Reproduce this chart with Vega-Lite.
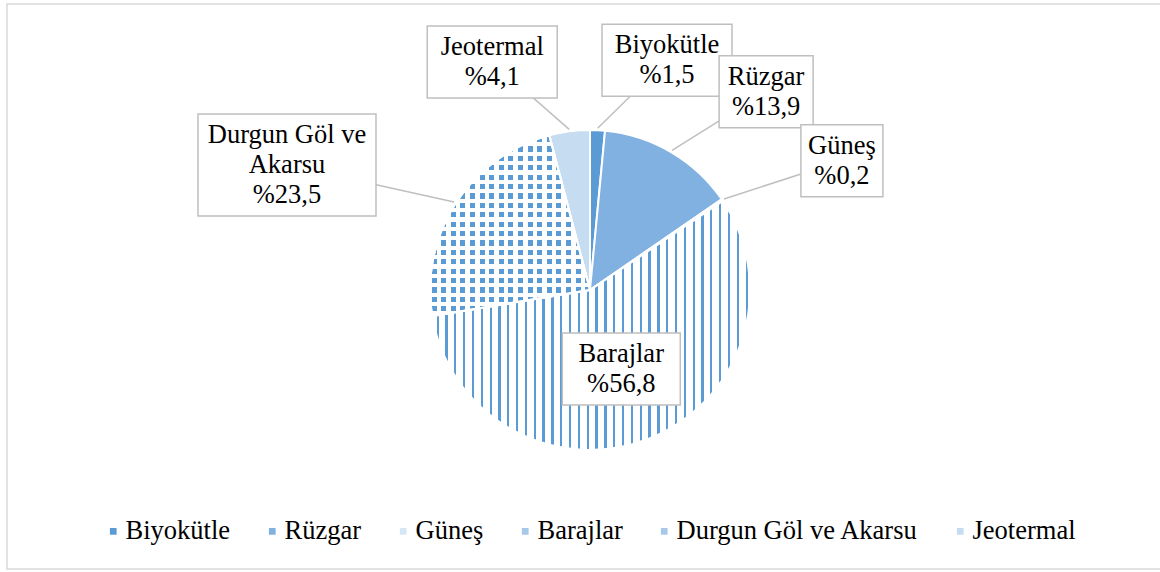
{
  "$schema": "https://vega.github.io/schema/vega-lite/v6.json",
  "width": 1156,
  "height": 565,
  "padding": {"left": 7, "top": 4, "right": 0, "bottom": 3},
  "background": "#ffffff",
  "config": {"view": {"stroke": "#d9d9d9", "strokeWidth": 1.5}, "font": "Liberation Serif"},
  "data": {"values": [
    {"kaynak": "Biyokütle", "pay": 1.5},
    {"kaynak": "Rüzgar", "pay": 13.9},
    {"kaynak": "Güneş", "pay": 0.2},
    {"kaynak": "Barajlar", "pay": 56.8},
    {"kaynak": "Durgun Göl ve Akarsu", "pay": 23.5},
    {"kaynak": "Jeotermal", "pay": 4.1}
  ]},
  "transform": [
    {"window": [{"op": "row_number", "as": "sira"}]},
    {"stack": "pay", "groupby": [], "sort": [{"field": "sira", "order": "ascending"}], "as": ["v0", "v1"]},
    {"calculate": "(datum.v0 + datum.v1) / 100 * PI", "as": "mid"},
    {"calculate": "length(datum.kaynak) > 12", "as": "wrap"},
    {"calculate": "datum.wrap ? replace(datum.kaynak, regexp(' [^ ]+$'), '') : datum.kaynak", "as": "l1"},
    {"calculate": "datum.wrap ? replace(datum.kaynak, regexp('^.* '), '') : ''", "as": "l2"},
    {"calculate": "'%' + replace(format(datum.pay, '.1f'), '.', ',')", "as": "pct"},
    {"calculate": "datum.wrap ? [datum.l1, datum.l2, datum.pct] : [datum.l1, datum.pct]", "as": "label"},
    {"calculate": "datum.wrap ? 3 : 2", "as": "nl"},
    {"calculate": "max(length(datum.l1), length(datum.l2), length(datum.pct))", "as": "nc"},
    {"calculate": "12 * datum.nc + 22", "as": "bw"},
    {"calculate": "30 * datum.nl + 12", "as": "bh"},
    {"calculate": "datum.pay > 40", "as": "inside"},
    {"calculate": "sin(datum.mid) >= 0 ? 1 : -1", "as": "side"},
    {"calculate": "datum.inside ? 85 * sin(datum.mid) : 255 * sin(datum.mid) + datum.side * datum.bw / 2", "as": "cx"},
    {"calculate": "datum.inside ? 85 * cos(datum.mid) : 230 * cos(datum.mid)", "as": "cy"},
    {"calculate": "datum.cy + (datum.nl - 1) * 15", "as": "ty"},
    {"calculate": "162 * sin(datum.mid)", "as": "ex"},
    {"calculate": "162 * cos(datum.mid)", "as": "ey"},
    {"calculate": "datum.cx - datum.bw / 2", "as": "bx1"},
    {"calculate": "datum.cx + datum.bw / 2", "as": "bx2"},
    {"calculate": "datum.cy - datum.bh / 2", "as": "by1"},
    {"calculate": "datum.cy + datum.bh / 2", "as": "by2"}
  ],
  "layer": [
    {
      "mark": {"type": "arc", "outerRadius": 160, "stroke": "#ffffff", "strokeWidth": 2},
      "encoding": {
        "x": {"datum": 0, "type": "quantitative", "scale": {"domain": [-583, 573], "nice": false, "zero": false}, "axis": null},
        "y": {"datum": 0, "type": "quantitative", "scale": {"domain": [-279, 286], "nice": false, "zero": false}, "axis": null},
        "theta": {"field": "v0", "type": "quantitative", "scale": {"domain": [0, 100]}},
        "theta2": {"field": "v1"},
        "color": {
          "field": "kaynak", "type": "nominal",
          "scale": {
            "domain": ["Biyokütle", "Rüzgar", "Güneş", "Barajlar", "Durgun Göl ve Akarsu", "Jeotermal"],
            "range": ["#5b9bd5", "#80b1e0", "#d6e6f5", "#a7c8ea", "#a7c8ea", "#c6dcf0"]
          },
          "legend": {
            "orient": "none", "legendX": 93, "legendY": 514, "direction": "horizontal",
            "title": null, "symbolType": "square", "symbolSize": 45, "symbolStrokeWidth": 0,
            "labelFont": "Liberation Serif", "labelFontSize": 26.5, "labelColor": "#000000",
            "labelOffset": -1, "columnPadding": 28, "padding": 0, "labelLimit": 400
          }
        }
      }
    },
    {
      "transform": [{"filter": "datum.kaynak === 'Barajlar'"}],
      "mark": {"type": "arc", "outerRadius": 160, "stroke": "#ffffff", "strokeWidth": 2,
        "fill": {"gradient": "linear", "x1": 0, "y1": 0, "x2": 1, "y2": 0, "stops": [
          {"offset": 0.0139, "color": "#fff"}, {"offset": 0.0139, "color": "#5b9bd5"}, {"offset": 0.0208, "color": "#5b9bd5"}, {"offset": 0.0208, "color": "#fff"},
          {"offset": 0.0417, "color": "#fff"}, {"offset": 0.0417, "color": "#5b9bd5"}, {"offset": 0.0486, "color": "#5b9bd5"}, {"offset": 0.0486, "color": "#fff"},
          {"offset": 0.0694, "color": "#fff"}, {"offset": 0.0694, "color": "#5b9bd5"}, {"offset": 0.0764, "color": "#5b9bd5"}, {"offset": 0.0764, "color": "#fff"},
          {"offset": 0.0972, "color": "#fff"}, {"offset": 0.0972, "color": "#5b9bd5"}, {"offset": 0.1042, "color": "#5b9bd5"}, {"offset": 0.1042, "color": "#fff"},
          {"offset": 0.1250, "color": "#fff"}, {"offset": 0.1250, "color": "#5b9bd5"}, {"offset": 0.1319, "color": "#5b9bd5"}, {"offset": 0.1319, "color": "#fff"},
          {"offset": 0.1528, "color": "#fff"}, {"offset": 0.1528, "color": "#5b9bd5"}, {"offset": 0.1597, "color": "#5b9bd5"}, {"offset": 0.1597, "color": "#fff"},
          {"offset": 0.1806, "color": "#fff"}, {"offset": 0.1806, "color": "#5b9bd5"}, {"offset": 0.1875, "color": "#5b9bd5"}, {"offset": 0.1875, "color": "#fff"},
          {"offset": 0.2083, "color": "#fff"}, {"offset": 0.2083, "color": "#5b9bd5"}, {"offset": 0.2153, "color": "#5b9bd5"}, {"offset": 0.2153, "color": "#fff"},
          {"offset": 0.2361, "color": "#fff"}, {"offset": 0.2361, "color": "#5b9bd5"}, {"offset": 0.2431, "color": "#5b9bd5"}, {"offset": 0.2431, "color": "#fff"},
          {"offset": 0.2639, "color": "#fff"}, {"offset": 0.2639, "color": "#5b9bd5"}, {"offset": 0.2708, "color": "#5b9bd5"}, {"offset": 0.2708, "color": "#fff"},
          {"offset": 0.2917, "color": "#fff"}, {"offset": 0.2917, "color": "#5b9bd5"}, {"offset": 0.2986, "color": "#5b9bd5"}, {"offset": 0.2986, "color": "#fff"},
          {"offset": 0.3194, "color": "#fff"}, {"offset": 0.3194, "color": "#5b9bd5"}, {"offset": 0.3264, "color": "#5b9bd5"}, {"offset": 0.3264, "color": "#fff"},
          {"offset": 0.3472, "color": "#fff"}, {"offset": 0.3472, "color": "#5b9bd5"}, {"offset": 0.3542, "color": "#5b9bd5"}, {"offset": 0.3542, "color": "#fff"},
          {"offset": 0.3750, "color": "#fff"}, {"offset": 0.3750, "color": "#5b9bd5"}, {"offset": 0.3819, "color": "#5b9bd5"}, {"offset": 0.3819, "color": "#fff"},
          {"offset": 0.4028, "color": "#fff"}, {"offset": 0.4028, "color": "#5b9bd5"}, {"offset": 0.4097, "color": "#5b9bd5"}, {"offset": 0.4097, "color": "#fff"},
          {"offset": 0.4306, "color": "#fff"}, {"offset": 0.4306, "color": "#5b9bd5"}, {"offset": 0.4375, "color": "#5b9bd5"}, {"offset": 0.4375, "color": "#fff"},
          {"offset": 0.4583, "color": "#fff"}, {"offset": 0.4583, "color": "#5b9bd5"}, {"offset": 0.4653, "color": "#5b9bd5"}, {"offset": 0.4653, "color": "#fff"},
          {"offset": 0.4861, "color": "#fff"}, {"offset": 0.4861, "color": "#5b9bd5"}, {"offset": 0.4931, "color": "#5b9bd5"}, {"offset": 0.4931, "color": "#fff"},
          {"offset": 0.5139, "color": "#fff"}, {"offset": 0.5139, "color": "#5b9bd5"}, {"offset": 0.5208, "color": "#5b9bd5"}, {"offset": 0.5208, "color": "#fff"},
          {"offset": 0.5417, "color": "#fff"}, {"offset": 0.5417, "color": "#5b9bd5"}, {"offset": 0.5486, "color": "#5b9bd5"}, {"offset": 0.5486, "color": "#fff"},
          {"offset": 0.5694, "color": "#fff"}, {"offset": 0.5694, "color": "#5b9bd5"}, {"offset": 0.5764, "color": "#5b9bd5"}, {"offset": 0.5764, "color": "#fff"},
          {"offset": 0.5972, "color": "#fff"}, {"offset": 0.5972, "color": "#5b9bd5"}, {"offset": 0.6042, "color": "#5b9bd5"}, {"offset": 0.6042, "color": "#fff"},
          {"offset": 0.6250, "color": "#fff"}, {"offset": 0.6250, "color": "#5b9bd5"}, {"offset": 0.6319, "color": "#5b9bd5"}, {"offset": 0.6319, "color": "#fff"},
          {"offset": 0.6528, "color": "#fff"}, {"offset": 0.6528, "color": "#5b9bd5"}, {"offset": 0.6597, "color": "#5b9bd5"}, {"offset": 0.6597, "color": "#fff"},
          {"offset": 0.6806, "color": "#fff"}, {"offset": 0.6806, "color": "#5b9bd5"}, {"offset": 0.6875, "color": "#5b9bd5"}, {"offset": 0.6875, "color": "#fff"},
          {"offset": 0.7083, "color": "#fff"}, {"offset": 0.7083, "color": "#5b9bd5"}, {"offset": 0.7153, "color": "#5b9bd5"}, {"offset": 0.7153, "color": "#fff"},
          {"offset": 0.7361, "color": "#fff"}, {"offset": 0.7361, "color": "#5b9bd5"}, {"offset": 0.7431, "color": "#5b9bd5"}, {"offset": 0.7431, "color": "#fff"},
          {"offset": 0.7639, "color": "#fff"}, {"offset": 0.7639, "color": "#5b9bd5"}, {"offset": 0.7708, "color": "#5b9bd5"}, {"offset": 0.7708, "color": "#fff"},
          {"offset": 0.7917, "color": "#fff"}, {"offset": 0.7917, "color": "#5b9bd5"}, {"offset": 0.7986, "color": "#5b9bd5"}, {"offset": 0.7986, "color": "#fff"},
          {"offset": 0.8194, "color": "#fff"}, {"offset": 0.8194, "color": "#5b9bd5"}, {"offset": 0.8264, "color": "#5b9bd5"}, {"offset": 0.8264, "color": "#fff"},
          {"offset": 0.8472, "color": "#fff"}, {"offset": 0.8472, "color": "#5b9bd5"}, {"offset": 0.8542, "color": "#5b9bd5"}, {"offset": 0.8542, "color": "#fff"},
          {"offset": 0.8750, "color": "#fff"}, {"offset": 0.8750, "color": "#5b9bd5"}, {"offset": 0.8819, "color": "#5b9bd5"}, {"offset": 0.8819, "color": "#fff"},
          {"offset": 0.9028, "color": "#fff"}, {"offset": 0.9028, "color": "#5b9bd5"}, {"offset": 0.9097, "color": "#5b9bd5"}, {"offset": 0.9097, "color": "#fff"},
          {"offset": 0.9306, "color": "#fff"}, {"offset": 0.9306, "color": "#5b9bd5"}, {"offset": 0.9375, "color": "#5b9bd5"}, {"offset": 0.9375, "color": "#fff"},
          {"offset": 0.9583, "color": "#fff"}, {"offset": 0.9583, "color": "#5b9bd5"}, {"offset": 0.9653, "color": "#5b9bd5"}, {"offset": 0.9653, "color": "#fff"},
          {"offset": 0.9861, "color": "#fff"}, {"offset": 0.9861, "color": "#5b9bd5"}, {"offset": 0.9931, "color": "#5b9bd5"}, {"offset": 0.9931, "color": "#fff"}
        ]}
      },
      "encoding": {
        "x": {"datum": 0, "type": "quantitative"},
        "y": {"datum": 0, "type": "quantitative"},
        "theta": {"field": "v0", "type": "quantitative"},
        "theta2": {"field": "v1"}
      }
    },
    {
      "transform": [{"filter": "datum.kaynak === 'Durgun Göl ve Akarsu'"}],
      "mark": {"type": "arc", "outerRadius": 160, "stroke": "#ffffff", "strokeWidth": 2,
        "fill": {"gradient": "linear", "x1": 0, "y1": 0, "x2": 1, "y2": 0, "stops": [
          {"offset": 0.01, "color": "#fff"}, {"offset": 0.01, "color": "#5b9bd5"}, {"offset": 0.041, "color": "#5b9bd5"}, {"offset": 0.041, "color": "#fff"},
          {"offset": 0.07, "color": "#fff"}, {"offset": 0.07, "color": "#5b9bd5"}, {"offset": 0.101, "color": "#5b9bd5"}, {"offset": 0.101, "color": "#fff"},
          {"offset": 0.13, "color": "#fff"}, {"offset": 0.13, "color": "#5b9bd5"}, {"offset": 0.161, "color": "#5b9bd5"}, {"offset": 0.161, "color": "#fff"},
          {"offset": 0.19, "color": "#fff"}, {"offset": 0.19, "color": "#5b9bd5"}, {"offset": 0.221, "color": "#5b9bd5"}, {"offset": 0.221, "color": "#fff"},
          {"offset": 0.25, "color": "#fff"}, {"offset": 0.25, "color": "#5b9bd5"}, {"offset": 0.281, "color": "#5b9bd5"}, {"offset": 0.281, "color": "#fff"},
          {"offset": 0.31, "color": "#fff"}, {"offset": 0.31, "color": "#5b9bd5"}, {"offset": 0.341, "color": "#5b9bd5"}, {"offset": 0.341, "color": "#fff"},
          {"offset": 0.37, "color": "#fff"}, {"offset": 0.37, "color": "#5b9bd5"}, {"offset": 0.401, "color": "#5b9bd5"}, {"offset": 0.401, "color": "#fff"},
          {"offset": 0.43, "color": "#fff"}, {"offset": 0.43, "color": "#5b9bd5"}, {"offset": 0.461, "color": "#5b9bd5"}, {"offset": 0.461, "color": "#fff"},
          {"offset": 0.49, "color": "#fff"}, {"offset": 0.49, "color": "#5b9bd5"}, {"offset": 0.521, "color": "#5b9bd5"}, {"offset": 0.521, "color": "#fff"},
          {"offset": 0.55, "color": "#fff"}, {"offset": 0.55, "color": "#5b9bd5"}, {"offset": 0.581, "color": "#5b9bd5"}, {"offset": 0.581, "color": "#fff"},
          {"offset": 0.61, "color": "#fff"}, {"offset": 0.61, "color": "#5b9bd5"}, {"offset": 0.641, "color": "#5b9bd5"}, {"offset": 0.641, "color": "#fff"},
          {"offset": 0.67, "color": "#fff"}, {"offset": 0.67, "color": "#5b9bd5"}, {"offset": 0.701, "color": "#5b9bd5"}, {"offset": 0.701, "color": "#fff"},
          {"offset": 0.73, "color": "#fff"}, {"offset": 0.73, "color": "#5b9bd5"}, {"offset": 0.761, "color": "#5b9bd5"}, {"offset": 0.761, "color": "#fff"},
          {"offset": 0.79, "color": "#fff"}, {"offset": 0.79, "color": "#5b9bd5"}, {"offset": 0.821, "color": "#5b9bd5"}, {"offset": 0.821, "color": "#fff"},
          {"offset": 0.85, "color": "#fff"}, {"offset": 0.85, "color": "#5b9bd5"}, {"offset": 0.881, "color": "#5b9bd5"}, {"offset": 0.881, "color": "#fff"},
          {"offset": 0.91, "color": "#fff"}, {"offset": 0.91, "color": "#5b9bd5"}, {"offset": 0.941, "color": "#5b9bd5"}, {"offset": 0.941, "color": "#fff"},
          {"offset": 0.97, "color": "#fff"}, {"offset": 0.97, "color": "#5b9bd5"}, {"offset": 0.995, "color": "#5b9bd5"}, {"offset": 0.995, "color": "#fff"}
        ]}
      },
      "encoding": {
        "x": {"datum": 0, "type": "quantitative"},
        "y": {"datum": 0, "type": "quantitative"},
        "theta": {"field": "v0", "type": "quantitative"},
        "theta2": {"field": "v1"}
      }
    },
    {
      "transform": [{"filter": "datum.kaynak === 'Durgun Göl ve Akarsu'"}],
      "mark": {"type": "arc", "outerRadius": 160, "stroke": "#ffffff", "strokeWidth": 2,
        "fill": {"gradient": "linear", "x1": 0, "y1": 0, "x2": 0, "y2": 1, "stops": [
          {"offset": 0.010, "color": "#fff"}, {"offset": 0.010, "color": "rgba(255,255,255,0)"}, {"offset": 0.038, "color": "rgba(255,255,255,0)"}, {"offset": 0.038, "color": "#fff"},
          {"offset": 0.062, "color": "#fff"}, {"offset": 0.062, "color": "rgba(255,255,255,0)"}, {"offset": 0.090, "color": "rgba(255,255,255,0)"}, {"offset": 0.090, "color": "#fff"},
          {"offset": 0.114, "color": "#fff"}, {"offset": 0.114, "color": "rgba(255,255,255,0)"}, {"offset": 0.142, "color": "rgba(255,255,255,0)"}, {"offset": 0.142, "color": "#fff"},
          {"offset": 0.166, "color": "#fff"}, {"offset": 0.166, "color": "rgba(255,255,255,0)"}, {"offset": 0.194, "color": "rgba(255,255,255,0)"}, {"offset": 0.194, "color": "#fff"},
          {"offset": 0.218, "color": "#fff"}, {"offset": 0.218, "color": "rgba(255,255,255,0)"}, {"offset": 0.246, "color": "rgba(255,255,255,0)"}, {"offset": 0.246, "color": "#fff"},
          {"offset": 0.270, "color": "#fff"}, {"offset": 0.270, "color": "rgba(255,255,255,0)"}, {"offset": 0.298, "color": "rgba(255,255,255,0)"}, {"offset": 0.298, "color": "#fff"},
          {"offset": 0.322, "color": "#fff"}, {"offset": 0.322, "color": "rgba(255,255,255,0)"}, {"offset": 0.350, "color": "rgba(255,255,255,0)"}, {"offset": 0.350, "color": "#fff"},
          {"offset": 0.374, "color": "#fff"}, {"offset": 0.374, "color": "rgba(255,255,255,0)"}, {"offset": 0.402, "color": "rgba(255,255,255,0)"}, {"offset": 0.402, "color": "#fff"},
          {"offset": 0.426, "color": "#fff"}, {"offset": 0.426, "color": "rgba(255,255,255,0)"}, {"offset": 0.454, "color": "rgba(255,255,255,0)"}, {"offset": 0.454, "color": "#fff"},
          {"offset": 0.478, "color": "#fff"}, {"offset": 0.478, "color": "rgba(255,255,255,0)"}, {"offset": 0.506, "color": "rgba(255,255,255,0)"}, {"offset": 0.506, "color": "#fff"},
          {"offset": 0.530, "color": "#fff"}, {"offset": 0.530, "color": "rgba(255,255,255,0)"}, {"offset": 0.558, "color": "rgba(255,255,255,0)"}, {"offset": 0.558, "color": "#fff"},
          {"offset": 0.582, "color": "#fff"}, {"offset": 0.582, "color": "rgba(255,255,255,0)"}, {"offset": 0.610, "color": "rgba(255,255,255,0)"}, {"offset": 0.610, "color": "#fff"},
          {"offset": 0.634, "color": "#fff"}, {"offset": 0.634, "color": "rgba(255,255,255,0)"}, {"offset": 0.662, "color": "rgba(255,255,255,0)"}, {"offset": 0.662, "color": "#fff"},
          {"offset": 0.686, "color": "#fff"}, {"offset": 0.686, "color": "rgba(255,255,255,0)"}, {"offset": 0.714, "color": "rgba(255,255,255,0)"}, {"offset": 0.714, "color": "#fff"},
          {"offset": 0.738, "color": "#fff"}, {"offset": 0.738, "color": "rgba(255,255,255,0)"}, {"offset": 0.766, "color": "rgba(255,255,255,0)"}, {"offset": 0.766, "color": "#fff"},
          {"offset": 0.790, "color": "#fff"}, {"offset": 0.790, "color": "rgba(255,255,255,0)"}, {"offset": 0.818, "color": "rgba(255,255,255,0)"}, {"offset": 0.818, "color": "#fff"},
          {"offset": 0.842, "color": "#fff"}, {"offset": 0.842, "color": "rgba(255,255,255,0)"}, {"offset": 0.870, "color": "rgba(255,255,255,0)"}, {"offset": 0.870, "color": "#fff"},
          {"offset": 0.894, "color": "#fff"}, {"offset": 0.894, "color": "rgba(255,255,255,0)"}, {"offset": 0.922, "color": "rgba(255,255,255,0)"}, {"offset": 0.922, "color": "#fff"},
          {"offset": 0.946, "color": "#fff"}, {"offset": 0.946, "color": "rgba(255,255,255,0)"}, {"offset": 0.974, "color": "rgba(255,255,255,0)"}, {"offset": 0.974, "color": "#fff"}
        ]}
      },
      "encoding": {
        "x": {"datum": 0, "type": "quantitative"},
        "y": {"datum": 0, "type": "quantitative"},
        "theta": {"field": "v0", "type": "quantitative"},
        "theta2": {"field": "v1"}
      }
    },
    {
      "transform": [{"filter": "!datum.inside"}],
      "mark": {"type": "rule", "stroke": "#bfbfbf", "strokeWidth": 1.5},
      "encoding": {
        "x": {"field": "ex", "type": "quantitative"},
        "y": {"field": "ey", "type": "quantitative"},
        "x2": {"field": "cx"},
        "y2": {"field": "cy"}
      }
    },
    {
      "mark": {"type": "rect", "fill": "#ffffff", "stroke": "#bfbfbf", "strokeWidth": 1.5},
      "encoding": {
        "x": {"field": "bx1", "type": "quantitative"},
        "x2": {"field": "bx2"},
        "y": {"field": "by1", "type": "quantitative"},
        "y2": {"field": "by2"}
      }
    },
    {
      "mark": {"type": "text", "font": "Liberation Serif", "fontSize": 26.5, "lineHeight": 30, "align": "center", "baseline": "middle", "color": "#000000"},
      "encoding": {
        "x": {"field": "cx", "type": "quantitative"},
        "y": {"field": "ty", "type": "quantitative"},
        "text": {"field": "label"}
      }
    }
  ]
}
